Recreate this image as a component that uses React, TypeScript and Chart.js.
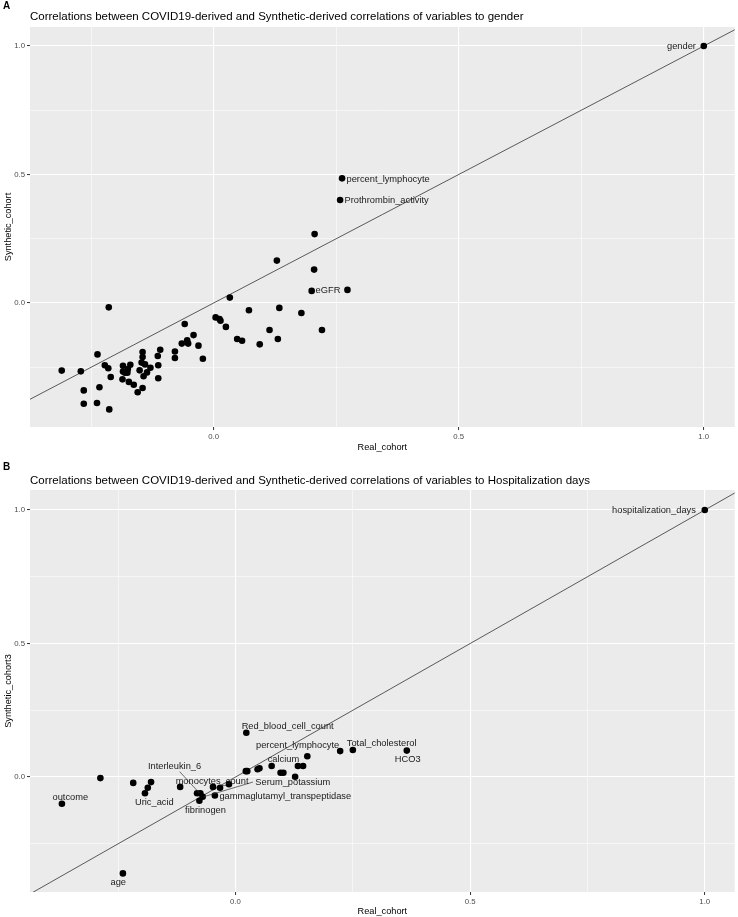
import React, { useEffect, useRef } from "react";
import { Chart, registerables } from "chart.js";

Chart.register(...registerables);

const FONT = '"Liberation Sans", Arial, Helvetica, sans-serif';

// ---------- Panel A data ----------
const realA = [
  -0.310, -0.271, -0.237, -0.265, -0.265, -0.238, -0.233, -0.213, -0.222, -0.215,
  -0.210, -0.214, -0.186, -0.185, -0.185, -0.181, -0.176, -0.175, -0.170, -0.173,
  -0.163, -0.155, -0.145, -0.151, -0.145, -0.145, -0.147, -0.140, -0.143, -0.136,
  -0.129, -0.114, -0.109, -0.113, -0.113, -0.079, -0.079, -0.065, -0.059, -0.054,
  -0.052, -0.041, -0.031, -0.022, 0.004, 0.012, 0.014, 0.025, 0.033, 0.048,
  0.058, 0.072, 0.094, 0.114, 0.129, 0.131, 0.134, 0.179, 0.206, 0.205,
  0.200, 0.221, 0.273, 0.262, 0.258, 1.0,
];
const synthA = [
  -0.263, -0.266, -0.200, -0.340, -0.392, -0.389, -0.328, -0.414, -0.242, -0.254,
  -0.288, -0.017, -0.297, -0.244, -0.267, -0.271, -0.271, -0.257, -0.240, -0.307,
  -0.318, -0.347, -0.331, -0.262, -0.191, -0.210, -0.232, -0.239, -0.285, -0.270,
  -0.252, -0.206, -0.182, -0.242, -0.293, -0.189, -0.214, -0.158, -0.082, -0.145,
  -0.158, -0.125, -0.166, -0.217, -0.056, -0.062, -0.069, -0.093, 0.021, -0.140,
  -0.147, -0.028, -0.161, -0.105, 0.165, -0.140, -0.019, -0.039, 0.268, 0.130,
  0.047, -0.105, 0.051, 0.485, 0.401, 1.0,
];
const labelTextA = ["gender", "percent_lymphocyte", "Prothrombin_activity", "eGFR"];
const labelXA = [0.984, 0.271, 0.267, 0.208];
const labelYA = [1.0, 0.482, 0.401, 0.047];
const labelAlignA = ["right", "left", "left", "left"];

// ---------- Panel B data ----------
const realB = [
  -0.288, -0.370, -0.218, -0.180, -0.187, -0.193, -0.118, -0.082, -0.075, -0.070,
  -0.077, -0.048, -0.033, -0.044, -0.014, -0.240, 0.023, 0.022, 0.025, 0.047,
  0.051, 0.077, 0.096, 0.102, 0.127, 0.133, 0.144, 0.153, 0.223, 0.250,
  0.365, 1.0,
];
const synthB = [
  -0.004, -0.100, -0.022, -0.019, -0.040, -0.061, -0.037, -0.061, -0.061, -0.074,
  -0.089, -0.037, -0.040, -0.069, -0.027, -0.361, 0.166, 0.022, 0.022, 0.029,
  0.033, 0.041, 0.016, 0.016, 0.001, 0.041, 0.041, 0.078, 0.097, 0.101,
  0.099, 1.0,
];
const labelTextB = [
  "hospitalization_days", "Red_blood_cell_count", "percent_lymphocyte", "Total_cholesterol",
  "HCO3", "calcium", "Interleukin_6", "monocytes_count", "Serum_potassium",
  "gammaglutamyl_transpeptidase", "fibrinogen", "Uric_acid", "outcome", "age",
];
const labelXB = [0.981, 0.013, 0.221, 0.237, 0.367, 0.102, -0.130, -0.050, 0.122, 0.106, -0.064, -0.173, -0.352, -0.250];
const labelYB = [1.0, 0.188, 0.120, 0.126, 0.066, 0.066, 0.038, -0.015, -0.020, -0.074, -0.126, -0.095, -0.076, -0.393];
const labelAlignB = ["right", "left", "right", "left", "center", "center", "center", "center", "center", "center", "center", "center", "center", "center"];
const segFromXB = [-0.119, -0.068];
const segFromYB = [0.020, -0.074];
const segToXB = [-0.077, 0.037];
const segToYB = [-0.060, -0.019];

// ---------- Ticks ----------
const majorTicks = [0, 0.5, 1.0];
const majorTickLabels = ["0.0", "0.5", "1.0"];
const minorTicks = [-0.25, 0.25, 0.75];

type PanelCfg = {
  letter: string;
  title: string;
  yTitle: string;
  xTitle: string;
  real: number[];
  synth: number[];
  xMin: number; xMax: number; yMin: number; yMax: number;
  labelText: string[]; labelX: number[]; labelY: number[]; labelAlign: string[];
  segFX: number[]; segFY: number[]; segTX: number[]; segTY: number[];
  height: number;
  padTop: number;
  xAxisH: number;
  letterY: number;
  titleY: number;
  xTitleOffset: number;
};

function isMajor(v: number) {
  return majorTicks.some((m) => Math.abs(m - v) < 1e-9);
}

function buildTicks(scale: any) {
  const all = [...majorTicks, ...minorTicks].sort((a, b) => a - b);
  scale.ticks = all.filter((v) => v >= scale.min && v <= scale.max).map((v) => ({ value: v }));
}

function tickLabel(v: number) {
  const i = majorTicks.findIndex((m) => Math.abs(m - v) < 1e-9);
  return i >= 0 ? majorTickLabels[i] : "";
}

function Panel({ cfg }: { cfg: PanelCfg }) {
  const ref = useRef<HTMLCanvasElement | null>(null);
  useEffect(() => {
    if (!ref.current) return;
    const pts = cfg.real.map((x, i) => ({ x, y: cfg.synth[i] }));
    const lo = Math.min(cfg.xMin, cfg.yMin) - 1;
    const hi = Math.max(cfg.xMax, cfg.yMax) + 1;

    const bgPlugin = {
      id: "panelBg",
      beforeDraw(chart: any) {
        const { ctx, chartArea: a } = chart;
        ctx.save();
        ctx.fillStyle = "#FFFFFF";
        ctx.fillRect(0, 0, chart.width, chart.height);
        ctx.fillStyle = "#EBEBEB";
        ctx.fillRect(a.left, a.top, a.right - a.left, a.bottom - a.top);
        ctx.restore();
      },
    };

    const textPlugin = {
      id: "panelText",
      afterDatasetsDraw(chart: any) {
        const { ctx } = chart;
        const xs = chart.scales.x;
        const ys = chart.scales.y;
        ctx.save();
        ctx.strokeStyle = "#333333";
        ctx.lineWidth = 0.7;
        cfg.segFX.forEach((fx, i) => {
          ctx.beginPath();
          ctx.moveTo(xs.getPixelForValue(fx), ys.getPixelForValue(cfg.segFY[i]));
          ctx.lineTo(xs.getPixelForValue(cfg.segTX[i]), ys.getPixelForValue(cfg.segTY[i]));
          ctx.stroke();
        });
        ctx.fillStyle = "#1A1A1A";
        ctx.font = `9.3px ${FONT}`;
        ctx.textBaseline = "middle";
        cfg.labelText.forEach((t, i) => {
          ctx.textAlign = cfg.labelAlign[i] as CanvasTextAlign;
          ctx.fillText(t, xs.getPixelForValue(cfg.labelX[i]), ys.getPixelForValue(cfg.labelY[i]));
        });
        ctx.restore();
      },
      afterDraw(chart: any) {
        const { ctx, chartArea: a } = chart;
        ctx.save();
        ctx.fillStyle = "#000000";
        ctx.textBaseline = "middle";
        ctx.textAlign = "left";
        ctx.font = `bold 10px ${FONT}`;
        ctx.fillText(cfg.letter, 3, cfg.letterY);
        ctx.font = `11.5px ${FONT}`;
        ctx.fillText(cfg.title, 30, cfg.titleY);
        ctx.font = `9.2px ${FONT}`;
        ctx.textAlign = "center";
        ctx.fillText(cfg.xTitle, (a.left + a.right) / 2, a.bottom + cfg.xTitleOffset);
        ctx.translate(8, (a.top + a.bottom) / 2);
        ctx.rotate(-Math.PI / 2);
        ctx.fillText(cfg.yTitle, 0, 0);
        ctx.restore();
      },
    };

    const gridOpts = {
      color: "#FFFFFF",
      lineWidth: (c: any) => (c.tick && isMajor(c.tick.value) ? 1.1 : 0.55),
      drawTicks: true,
      tickLength: 3,
      tickWidth: 1,
      tickColor: (c: any) => (c.tick && isMajor(c.tick.value) ? "#333333" : "rgba(0,0,0,0)"),
    };
    const tickOpts = {
      autoSkip: false,
      maxRotation: 0,
      padding: 2,
      color: "#4D4D4D",
      font: { family: FONT, size: 7.8 },
      callback: (v: any) => tickLabel(Number(v)),
    };

    const chart = new Chart(ref.current, {
      type: "scatter",
      data: {
        datasets: [
          {
            type: "scatter",
            data: pts,
            backgroundColor: "#000000",
            borderWidth: 0,
            pointRadius: 3.3,
            pointHoverRadius: 3.3,
          } as any,
          {
            type: "line",
            data: [{ x: lo, y: lo }, { x: hi, y: hi }],
            borderColor: "#333333",
            borderWidth: 0.8,
            pointRadius: 0,
            fill: false,
          } as any,
        ],
      },
      options: {
        responsive: false,
        animation: false,
        events: [],
        layout: { padding: { top: cfg.padTop, right: 2, left: 0, bottom: 0 } },
        plugins: { legend: { display: false }, tooltip: { enabled: false }, title: { display: false } },
        scales: {
          x: {
            type: "linear",
            min: cfg.xMin,
            max: cfg.xMax,
            afterBuildTicks: buildTicks,
            afterFit: (s: any) => { s.height = cfg.xAxisH; },
            grid: gridOpts as any,
            border: { display: false },
            ticks: tickOpts as any,
          },
          y: {
            type: "linear",
            min: cfg.yMin,
            max: cfg.yMax,
            afterBuildTicks: buildTicks,
            afterFit: (s: any) => { s.width = 30; },
            grid: gridOpts as any,
            border: { display: false },
            ticks: tickOpts as any,
          },
        },
      } as any,
      plugins: [bgPlugin, textPlugin],
    });
    return () => chart.destroy();
  }, [cfg]);
  return <canvas ref={ref} width={738} height={cfg.height} style={{ display: "block" }} />;
}

const panelA: PanelCfg = {
  letter: "A",
  title: "Correlations between COVID19-derived and Synthetic-derived correlations of variables to gender",
  yTitle: "Synthetic_cohort",
  xTitle: "Real_cohort",
  real: realA,
  synth: synthA,
  xMin: -0.3747, xMax: 1.0631, yMin: -0.4825, yMax: 1.0739,
  labelText: labelTextA, labelX: labelXA, labelY: labelYA, labelAlign: labelAlignA,
  segFX: [], segFY: [], segTX: [], segTY: [],
  height: 458,
  padTop: 27,
  xAxisH: 31,
  letterY: 6,
  titleY: 17,
  xTitleOffset: 20,
};

const panelB: PanelCfg = {
  letter: "B",
  title: "Correlations between COVID19-derived and Synthetic-derived correlations of variables to Hospitalization days",
  yTitle: "Synthetic_cohort3",
  xTitle: "Real_cohort",
  real: realB,
  synth: synthB,
  xMin: -0.438, xMax: 1.0638, yMin: -0.4307, yMax: 1.075,
  labelText: labelTextB, labelX: labelXB, labelY: labelYB, labelAlign: labelAlignB,
  segFX: segFromXB, segFY: segFromYB, segTX: segToXB, segTY: segToYB,
  height: 459,
  padTop: 32,
  xAxisH: 25,
  letterY: 9,
  titleY: 23,
  xTitleOffset: 19,
};

export default function App() {
  return (
    <div style={{ position: "absolute", left: 0, top: 0, width: 738, height: 917, background: "#fff" }}>
      <Panel cfg={panelA} />
      <Panel cfg={panelB} />
    </div>
  );
}
